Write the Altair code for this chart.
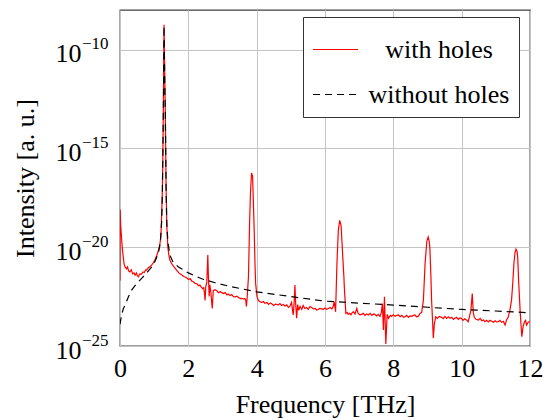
import altair as alt
import pandas as pd

# ---- data (x in THz, y as log10 of intensity) ----
red_x = [0.0, 0.005, 0.02, 0.05, 0.07, 0.095, 0.12, 0.15, 0.19, 0.22, 0.25, 0.29, 0.33, 0.37, 0.41, 0.44,
         0.48, 0.51, 0.54, 0.58, 0.63, 0.67, 0.71, 0.75, 0.78, 0.82, 0.86, 0.90, 0.93, 0.97, 1.02, 1.07,
         1.11, 1.15, 1.18, 1.20, 1.22, 1.24, 1.255, 1.268, 1.278, 1.288, 1.30, 1.315, 1.326, 1.34, 1.35,
         1.37, 1.40, 1.43, 1.46, 1.52, 1.58, 1.65, 1.72, 1.80, 1.88, 1.95, 2.0, 2.06, 2.1, 2.15, 2.2,
         2.25, 2.3, 2.34, 2.37, 2.42, 2.45, 2.47, 2.49, 2.51, 2.54, 2.57, 2.59, 2.61, 2.63, 2.66, 2.70,
         2.73, 2.78, 2.83, 2.88, 2.93, 2.98, 3.03, 3.08, 3.13, 3.17, 3.22, 3.27, 3.32, 3.37, 3.42, 3.47,
         3.52, 3.56, 3.61, 3.65, 3.68, 3.70, 3.72, 3.76, 3.795, 3.82, 3.85, 3.88, 3.905, 3.93, 3.95, 3.97,
         4.01, 4.05, 4.1, 4.15, 4.2, 4.24, 4.3, 4.35, 4.4, 4.44, 4.5, 4.55, 4.6, 4.63, 4.68, 4.73, 4.78,
         4.83, 4.88, 4.93, 4.97, 5.02, 5.05, 5.07, 5.1, 5.12, 5.14, 5.17, 5.2, 5.23, 5.27, 5.32, 5.36,
         5.41, 5.46, 5.51, 5.56, 5.61, 5.66, 5.71, 5.76, 5.8, 5.85, 5.9, 5.95, 6.0, 6.05, 6.1, 6.15, 6.2,
         6.24, 6.27, 6.31, 6.35, 6.39, 6.43, 6.47, 6.5, 6.52, 6.55, 6.57, 6.61, 6.65, 6.68, 6.72, 6.76,
         6.8, 6.83, 6.88, 6.93, 6.97, 7.02, 7.07, 7.12, 7.17, 7.22, 7.27, 7.32, 7.37, 7.42, 7.46, 7.51,
         7.56, 7.61, 7.65, 7.68, 7.71, 7.74, 7.78, 7.82, 7.86, 7.91, 7.95, 8.0, 8.05, 8.1, 8.15, 8.2,
         8.25, 8.3, 8.34, 8.39, 8.44, 8.49, 8.54, 8.59, 8.63, 8.68, 8.73, 8.78, 8.83, 8.88, 8.93, 8.98,
         9.02, 9.05, 9.07, 9.1, 9.12, 9.15, 9.17, 9.2, 9.24, 9.29, 9.34, 9.41, 9.46, 9.51, 9.56, 9.61,
         9.66, 9.71, 9.76, 9.8, 9.85, 9.9, 9.95, 9.99, 10.04, 10.09, 10.14, 10.19, 10.23, 10.27, 10.31,
         10.34, 10.37, 10.42, 10.49, 10.54, 10.59, 10.64, 10.68, 10.73, 10.78, 10.83, 10.88, 10.93,
         10.98, 11.02, 11.07, 11.12, 11.17, 11.22, 11.27, 11.31, 11.36, 11.41, 11.46, 11.5, 11.53,
         11.56, 11.59, 11.62, 11.64, 11.67, 11.71, 11.74, 11.76, 11.8, 11.84, 11.87, 11.9, 11.95, 12.0]

red_exp = [-21.7, -18.1, -18.9, -19.65, -20.1, -20.5, -20.85, -21.0, -21.1, -21.0, -21.2, -21.25, -21.15,
           -21.35, -21.3, -21.42, -21.3, -21.45, -21.5, -21.35, -21.36, -21.25, -21.28, -21.15, -21.16,
           -21.05, -21.0, -20.95, -20.9, -20.8, -20.65, -20.45, -20.25, -20.0, -19.7, -19.3, -18.3, -17.1,
           -15.2, -13.1, -11.0, -8.75, -10.2, -12.0, -13.1, -15.5, -17.1, -18.9, -20.0, -20.4, -20.65,
           -20.85, -21.0, -21.15, -21.3, -21.4, -21.5, -21.55, -21.63, -21.6, -21.72, -21.75, -21.83,
           -21.85, -21.95, -21.92, -22.0, -22.1, -22.05, -22.3, -22.7, -22.0, -21.8, -20.4, -21.6, -22.5,
           -21.9, -22.3, -23.1, -22.2, -22.15, -22.2, -22.3, -22.25, -22.3, -22.35, -22.3, -22.42, -22.37,
           -22.45, -22.4, -22.5, -22.51, -22.48, -22.55, -22.6, -22.59, -22.62, -22.6, -22.67, -23.0,
           -22.6, -21.5, -18.64, -17.2, -16.25, -16.4, -17.8, -19.3, -20.8, -21.83, -22.5, -22.7, -22.76,
           -22.8, -22.75, -22.84, -22.8, -22.9, -22.82, -22.86, -22.95, -22.88, -22.9, -22.93, -22.85,
           -22.95, -22.9, -22.98, -22.92, -23.05, -23.0, -22.8, -23.2, -23.43, -22.7, -21.92, -22.8, -23.6,
           -22.9, -23.2, -23.0, -23.15, -22.95, -23.1, -23.05, -23.15, -23.0, -23.05, -23.12, -23.1,
           -23.18, -23.15, -23.1, -23.12, -23.15, -23.08, -23.14, -23.1, -23.05, -23.12, -23.01, -22.76,
           -23.27, -20.8, -19.14, -18.64, -18.89, -19.8, -20.49, -21.4, -22.17, -23.35, -23.3, -23.4,
           -23.35, -23.42, -23.3, -23.27, -23.38, -23.1, -23.35, -23.42, -23.4, -23.35, -23.45, -23.38,
           -23.43, -23.35, -23.45, -23.38, -23.4, -23.48, -23.4, -23.5, -23.3, -22.85, -24.19, -22.51,
           -24.9, -23.4, -23.6, -23.45, -23.5, -23.42, -23.5, -23.45, -23.43, -23.52, -23.45, -23.55,
           -23.52, -23.45, -23.55, -23.48, -23.5, -23.45, -23.43, -23.52, -23.5, -23.35, -23.3, -22.68,
           -20.8, -19.7, -19.48, -19.7, -20.07, -21.5, -22.68, -23.8, -24.6, -23.9, -23.52, -23.6, -23.5,
           -23.55, -23.62, -23.5, -23.6, -23.52, -23.6, -23.55, -23.65, -23.6, -23.55, -23.65, -23.58,
           -23.6, -23.7, -23.62, -23.68, -23.77, -23.5, -23.2, -22.34, -23.3, -23.55, -23.65, -23.69,
           -23.6, -23.72, -23.68, -23.77, -23.7, -23.78, -23.7, -23.75, -23.8, -23.72, -23.78, -23.77,
           -23.7, -23.8, -23.75, -23.94, -23.7, -23.55, -23.2, -22.68, -21.7, -20.8, -20.3, -20.1, -20.2,
           -20.49, -21.8, -23.18, -24.0, -24.53, -24.0, -23.77, -23.7, -23.94, -23.8, -23.77]

blk_x = [0.0, 0.05, 0.1, 0.15, 0.25, 0.34, 0.45, 0.54, 0.64, 0.73, 0.83, 0.93, 1.03, 1.12, 1.18, 1.22,
         1.24, 1.255, 1.268, 1.278, 1.288, 1.30, 1.315, 1.326, 1.34, 1.35, 1.37, 1.40, 1.46, 1.55, 1.71,
         2.0, 2.39, 2.78, 3.2, 3.6, 4.0, 5.0, 6.0, 7.0, 8.0, 9.0, 10.0, 11.0, 12.0]
blk_exp = [-23.9, -23.4, -23.1, -22.93, -22.5, -22.17, -21.92, -21.75, -21.57, -21.4, -21.2, -21.0,
           -20.7, -20.3, -19.8, -18.7, -17.3, -15.3, -13.2, -11.1, -8.8, -10.3, -12.1, -13.2, -15.5,
           -17.2, -18.8, -19.7, -20.4, -20.75, -21.0, -21.3, -21.6, -21.8, -21.98, -22.12, -22.26,
           -22.5, -22.73, -22.83, -22.93, -23.04, -23.15, -23.23, -23.32]

series = ["with holes", "without holes"]
series_colors = ["#ff0000", "#000000"]
series_dash = [[1, 0], [7, 5]]

x_ticks = [0, 2, 4, 6, 8, 10, 12]
y_tick_exp = [-25, -20, -15, -10]
y_tick_base = "10"
y_tick_sup = ["\u221225", "\u221220", "\u221215", "\u221210"]

rows = [{"f": x, "I": 10.0 ** e, "s": series[0]} for x, e in zip(red_x, red_exp)]
rows += [{"f": x, "I": 10.0 ** e, "s": series[1]} for x, e in zip(blk_x, blk_exp)]
df = pd.DataFrame(rows)
df["o"] = range(len(df))

# exponent label expression built from the tick lists
sup_expr = "'" + y_tick_sup[-1] + "'"
for e, lab in reversed(list(zip(y_tick_exp[:-1], y_tick_sup[:-1]))):
    sup_expr = f"datum.value < {10.0 ** (e + 2.5)!r} ? '{lab}' : " + sup_expr

# per-entry legend symbol dash and colour, built from the series lists
dash_expr = f"datum.value == '{series[0]}' ? {series_dash[0]} : {series_dash[1]}"
col_expr = f"datum.value == '{series[0]}' ? '{series_colors[0]}' : '{series_colors[1]}'"

FONT = "Liberation Serif"
y_vals = [10.0 ** e for e in y_tick_exp]

legend = alt.Legend(title=None, orient="none", legendX=183, legendY=7,
                    symbolType="stroke", symbolSize=2025, symbolStrokeWidth=1.2,
                    symbolDash=alt.ExprRef(expr=dash_expr),
                    symbolStrokeColor=alt.ExprRef(expr=col_expr),
                    labelFont=FONT, labelFontSize=26, labelColor="black",
                    labelAlign="center", labelOffset=80,
                    fillColor="white", strokeColor="#333333",
                    padding=9, rowPadding=8)

x_enc = alt.X("f:Q", title="Frequency [THz]",
              scale=alt.Scale(domain=[0, 12], nice=False),
              axis=alt.Axis(values=x_ticks, format="d", labelFlush=False))
y_scale = alt.Scale(type="log", domain=[1e-25, 1e-8], nice=False)
stroke_enc = alt.Stroke("s:N", scale=alt.Scale(domain=series, range=series_colors), legend=legend)

base = alt.Chart(df)
red_layer = base.transform_filter(alt.datum.s == series[0]).mark_line(
    strokeWidth=1.2, clip=True
).encode(
    x=x_enc,
    y=alt.Y("I:Q", title="Intensity [a. u.]", scale=y_scale,
            axis=alt.Axis(orient="left", values=y_vals, labelExpr=f"'{y_tick_base}'",
                          labelPadding=39, labelOffset=4, grid=True, titlePadding=17)),
    stroke=stroke_enc, order="o:Q",
)
blk_layer = base.transform_filter(alt.datum.s == series[1]).mark_line(
    strokeWidth=1.2, clip=True, strokeDash=series_dash[1]
).encode(
    x=x_enc,
    y=alt.Y("I:Q", title=None, scale=y_scale,
            axis=alt.Axis(orient="left", values=y_vals, labelExpr=sup_expr, labelPadding=12,
                          labelFontSize=17, labelOffset=-6, grid=False)),
    stroke=stroke_enc, order="o:Q",
)

chart = alt.layer(red_layer, blk_layer).resolve_axis(y="independent").properties(
    width=410, height=336,
    autosize=alt.AutoSizeParams(type="none"),
    padding={"left": 120, "top": 10, "right": 19, "bottom": 74},
).configure_view(
    stroke="#404040", strokeWidth=1.3
).configure_axis(
    labelFont=FONT, labelFontSize=26, labelColor="black",
    titleFont=FONT, titleFontSize=26, titleFontWeight="normal", titleColor="black",
    gridColor="#c4c4c4", gridWidth=1,
    ticks=False, domain=False,
).configure_axisX(
    labelPadding=9, titlePadding=10, grid=True
)

chart.save("out.html", embed_options={"renderer": "svg", "actions": False})
